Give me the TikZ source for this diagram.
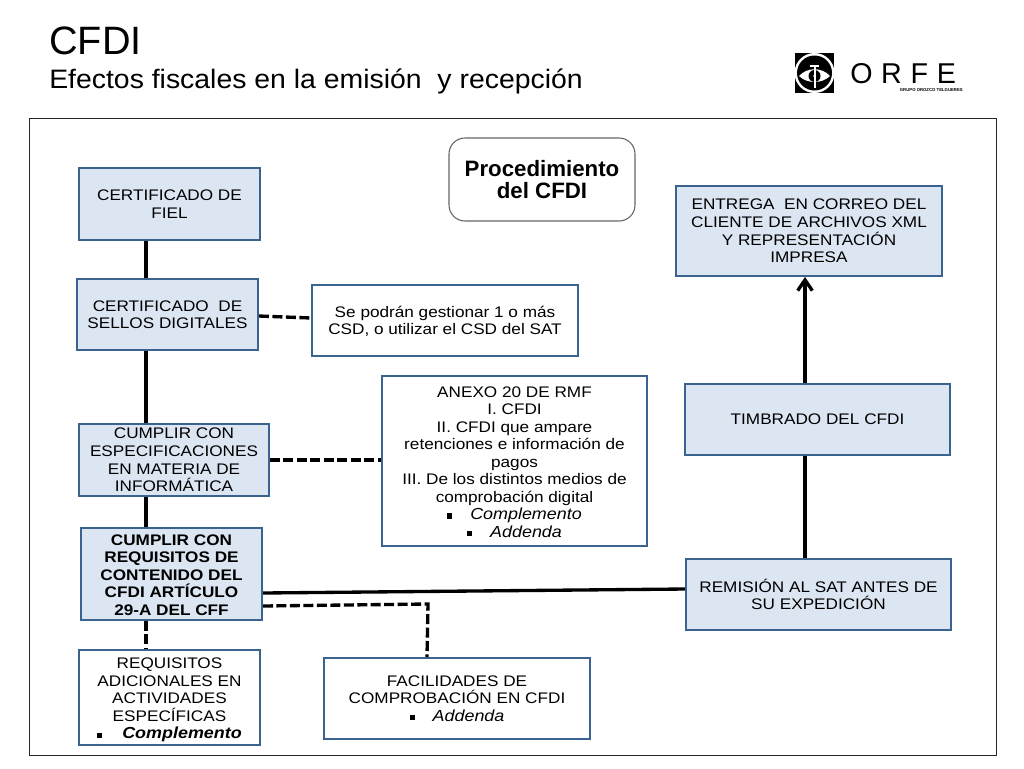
\documentclass[tikz,border=0pt]{standalone}
\usepackage{fontspec}
\setmainfont{Liberation Sans}
\newfontfamily\wide[FakeStretch=1.12]{Liberation Sans}
\newfontfamily\subw[FakeStretch=1.065]{Liberation Sans}
\usetikzlibrary{arrows.meta,calc}
\definecolor{edgeblue}{HTML}{3A6390}
\definecolor{fillblue}{HTML}{DCE6F2}
\newcommand{\bodysize}{\wide\fontsize{11.5}{13.15}\selectfont}
\newcommand{\itsize}{\fontsize{12}{13.15}\selectfont}
\newcommand{\bul}{\rule[1pt]{3.8pt}{3.8pt}}
\tikzset{
  x=0.75pt,y=-0.75pt,
  plainbox/.style={draw=edgeblue,line width=1.5pt,fill=white,align=center,inner sep=0pt,font=\bodysize},
  bluebox/.style={plainbox,fill=fillblue},
  solidline/.style={line width=2.5pt,black},
  dashline/.style={line width=2.5pt,black,dash pattern=on 7.5pt off 2.6pt},
}
\newcommand{\boxat}[7]{\node[#2,minimum width=#5*0.75pt-#3*0.75pt,minimum height=#6*0.75pt-#4*0.75pt] (#1) at ({(#3+#5)/2},{(#4+#6)/2}) {#7};}
\begin{document}
\begin{tikzpicture}
\useasboundingbox (0,0) rectangle (1024,768);
\fill[white] (0,0) rectangle (1024,768);
\node[anchor=west,inner sep=0pt,font=\fontsize{29.7}{29.7}\selectfont] (title) at (49,41) {CFDI};
\node[anchor=west,inner sep=0pt,font=\subw\fontsize{20}{20}\selectfont] (subtitle) at (49,81) {Efectos fiscales en la emisión\ \ y recepción};
% logo
\fill[black] (795,53) rectangle (834,93);
\fill[white] (814.5,73) circle[radius=20];
\fill[black] (814.5,73) circle[radius=17.5];
\fill[white] (799,76) .. controls (807,67) and (822,67) .. (830,76) .. controls (822,84) and (807,84) .. (799,76) -- cycle;
\fill[black] (814.5,76) circle[radius=6];
\fill[white] (813.5,66) rectangle (815.5,88);
\fill[white] (810,65) rectangle (819,66.5);
\fill[white] (814.5,76) circle[radius=1.5];
\node[anchor=west,inner sep=0pt,font=\fontsize{21.5}{21.5}\selectfont] (orfe) at (850,74) {O\hspace{6.5pt}R\hspace{6.5pt}F\hspace{6.5pt}E};
\node[anchor=east,inner sep=0pt,font=\bfseries\fontsize{3.2}{4}\selectfont] (grupo) at (963,90) {GRUPO OROZCO TELGUERES};
% frame
\draw[black!85,line width=0.6pt] (29,118) rectangle (996,755);
\coordinate (lane) at (146,0);
\coordinate (rlane) at (805,0);
\coordinate (facl) at (427,0);
\boxat{cert}{bluebox}{79}{168}{260}{240}{CERTIFICADO DE\\FIEL}
\boxat{sellos}{bluebox}{77}{279}{258}{350}{CERTIFICADO\ \ DE\\SELLOS DIGITALES}
\boxat{gest}{plainbox}{312}{285}{578}{356}{\rule{0pt}{10pt}Se podrán gestionar 1 o más\\CSD, o utilizar el CSD del SAT}
\boxat{espec}{bluebox}{79}{424}{269}{496}{CUMPLIR CON\\ESPECIFICACIONES\\EN MATERIA DE\\INFORMÁTICA}
\boxat{anexo}{plainbox}{382}{376}{647}{546}{\rule{0pt}{9.5pt}ANEXO 20 DE RMF\\I. CFDI\\II. CFDI que ampare\\retenciones e información de\\pagos\\III. De los distintos medios de\\comprobación digital\\\bul\hspace{13.5pt}\itsize\textit{Complemento}\\\bul\hspace{13.5pt}\itsize\textit{Addenda}}
\boxat{reqs}{bluebox}{81}{528}{262}{620}{\rule{0pt}{9.7pt}\bfseries CUMPLIR CON\\\bfseries REQUISITOS DE\\\bfseries CONTENIDO DEL\\\bfseries CFDI ARTÍCULO\\\bfseries 29-A DEL CFF}
\boxat{adic}{plainbox}{79}{650}{260}{745}{\rule{0pt}{12pt}REQUISITOS\\ADICIONALES EN\\ACTIVIDADES\\ESPECÍFICAS\\\bul\hspace{15pt}\itsize\textbf{\textit{Complemento}}}
\boxat{faci}{plainbox}{324}{658}{590}{739}{FACILIDADES DE\\COMPROBACIÓN EN CFDI\\\bul\hspace{13.5pt}\itsize\textit{Addenda}}
\node[draw=black!60,line width=0.8pt,rounded corners=12pt,fill=white,align=center,inner sep=0pt,font=\bfseries\fontsize{16.7}{17}\selectfont,minimum width=139.5pt,minimum height=62.25pt] (proc) at (542,179.5) {Procedimiento\\del CFDI};
\boxat{entrega}{bluebox}{676}{186}{942}{276}{ENTREGA\ \ EN CORREO DEL\\CLIENTE DE ARCHIVOS XML\\Y REPRESENTACIÓN\\IMPRESA}
\boxat{timb}{bluebox}{685}{384}{950}{455}{TIMBRADO DEL CFDI}
\boxat{remi}{bluebox}{686}{559}{951}{630}{REMISIÓN AL SAT ANTES DE\\SU EXPEDICIÓN}
% connectors
\draw[solidline] (cert.south -| lane) -- (sellos.north -| lane);
\draw[solidline] (sellos.south -| lane) -- (espec.north -| lane);
\draw[solidline] (espec.south -| lane) -- (reqs.north -| lane);
\draw[dashline] (reqs.south -| lane) -- (adic.north -| lane);
\draw[dashline] ($(sellos.east)+(0,1.5)$) -- ($(gest.west)+(0,-2.5)$);
\draw[dashline] (espec.east) -- (anexo.west |- espec.east);
\draw[solidline] ($(reqs.east)+(0,19)$) -- ($(remi.west)+(0,-5.5)$);
\draw[dashline] ($(reqs.east)+(0,32)$) -- ++(165,-2) -- (faci.north -| facl);
\draw[solidline] (remi.north -| rlane) -- (timb.south -| rlane);
\draw[solidline,-{Straight Barb[length=8pt,width=11pt]}] (timb.north -| rlane) -- (entrega.south -| rlane);
\end{tikzpicture}
\end{document}
